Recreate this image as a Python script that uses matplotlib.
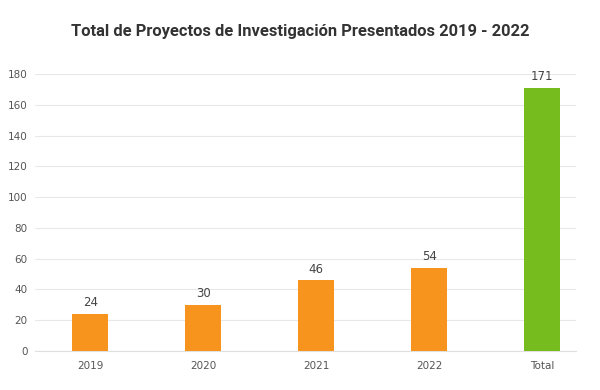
import matplotlib
matplotlib.use("Agg")
import matplotlib.pyplot as plt

# ── Data ──────────────────────────────────────────────────────────────────────
categories = ["2019", "2020", "2021", "2022", "Total"]
values = [24, 30, 46, 54, 171]
colors = ["#F7941D", "#F7941D", "#F7941D", "#F7941D", "#77BC1F"]
yticks = [0, 20, 40, 60, 80, 100, 120, 140, 160, 180]

# ── Plot ──────────────────────────────────────────────────────────────────────
fig = plt.figure(figsize=(6, 3.9), dpi=100)
ax = fig.add_axes([0.058, 0.1, 0.902, 0.71])

x = list(range(len(categories)))
bars = ax.bar(x, values, width=0.32, color=colors, zorder=3)

for xi, v in zip(x, values):
    ax.text(xi, v + 3, str(v), ha="center", va="bottom",
            fontsize=8.5, color="#444444")

ax.set_ylim(0, 180)
ax.set_xlim(-0.49, 4.3)
ax.set_yticks(yticks)
ax.set_xticks(x)
ax.set_xticklabels(categories)
ax.tick_params(axis="both", length=0, labelsize=7.5, labelcolor="#555555")
ax.tick_params(axis="x", pad=7)
ax.tick_params(axis="y", pad=5)
ax.grid(axis="y", color="#e8e8e8", linewidth=0.8, zorder=0)
for s in ["top", "right", "left"]:
    ax.spines[s].set_visible(False)
ax.spines["bottom"].set_color("#e0e0e0")
ax.spines["bottom"].set_linewidth(0.8)

fig.text(0.5, 0.918, "Total de Proyectos de Investigación Presentados 2019 - 2022",
         ha="center", va="center", fontsize=11.9, fontweight="bold",
         color="#333333", family=["Roboto", "DejaVu Sans"])

fig.savefig("out.png", dpi=100)
